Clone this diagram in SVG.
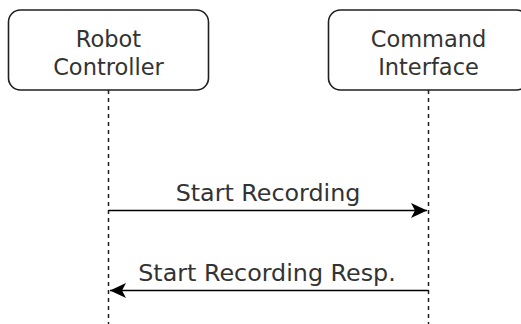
<svg xmlns="http://www.w3.org/2000/svg" width="521" height="324" viewBox="0 0 521 324">
<style>
.box{fill:#fff;stroke:#1f1f1f;stroke-width:1.6}
.life{stroke:#1f1f1f;stroke-width:1.5;stroke-dasharray:4 4;fill:none}
.msg{stroke:#000;stroke-width:1.7;fill:none}
.nt{font-family:"DejaVu Sans",sans-serif;font-size:22.5px;fill:#333;text-anchor:middle}
.mt{font-family:"DejaVu Sans",sans-serif;font-size:23.8px;fill:#333;text-anchor:middle}
</style>
<defs>
<marker id="ah" viewBox="0 0 16 15" refX="16" refY="7.5" markerWidth="16" markerHeight="15" markerUnits="userSpaceOnUse" orient="auto">
<path d="M0,0 L16,7.5 L0,15 L4,7.5 Z" fill="#000"/>
</marker>
</defs>
<rect width="521" height="324" fill="#fff"/>
<g id="connectors">
<line class="life" x1="108.5" y1="90" x2="108.5" y2="324"/>
<line class="life" x1="428.5" y1="90" x2="428.5" y2="324"/>
<line class="msg" x1="108.5" y1="210.5" x2="427" y2="210.5" marker-end="url(#ah)"/>
<line class="msg" x1="428.5" y1="290.5" x2="110" y2="290.5" marker-end="url(#ah)"/>
<text class="mt" x="268" y="201">Start Recording</text>
<text class="mt" x="267" y="281">Start Recording Resp.</text>
</g>
<g id="robot-controller">
<rect class="box" x="8.5" y="10" width="200" height="80" rx="12"/>
<text class="nt" x="108.5" y="47">Robot</text>
<text class="nt" x="108.5" y="75">Controller</text>
</g>
<g id="command-interface">
<rect class="box" x="328.5" y="10" width="200" height="80" rx="12"/>
<text class="nt" x="428.5" y="47">Command</text>
<text class="nt" x="428.5" y="75">Interface</text>
</g>
</svg>
